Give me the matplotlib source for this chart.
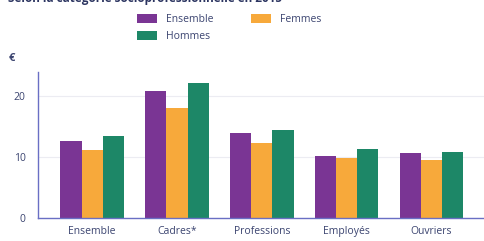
import matplotlib
matplotlib.use('Agg')
import matplotlib.pyplot as plt
import numpy as np

# Hourly wage (euros) by socio-professional category, 2015
categories = ['Ensemble', 'Cadres*', 'Professions\nintermédiaires', 'Employés', 'Ouvriers']
ensemble = [12.6, 20.8, 13.9, 10.2, 10.7]
femmes = [11.2, 18.0, 12.3, 9.8, 9.5]
hommes = [13.4, 22.2, 14.5, 11.4, 10.9]

purple = '#7a3594'
orange = '#f7a93b'
green = '#1d8767'
text_col = '#3b4470'
axis_col = '#6a6fc4'

plt.rcParams['font.family'] = ['Open Sans', 'DejaVu Sans']

fig = plt.figure(figsize=(4.84, 2.41), dpi=100)
ax = fig.add_axes([0.0785, 0.0954, 0.93, 0.606])

x = np.arange(len(categories))
w = 0.25
b1 = ax.bar(x - w, ensemble, w, color=purple, label='Ensemble')
b3 = ax.bar(x + w, hommes, w, color=green, label='Hommes')
b2 = ax.bar(x, femmes, w, color=orange, label='Femmes')

ax.set_xlim(-0.64, 4.67)
ax.set_ylim(0, 24)
ax.set_yticks([0, 10, 20])
ax.set_xticks(x)
ax.set_xticklabels(categories, linespacing=1.4)
ax.tick_params(axis='both', length=0, labelsize=7.5, labelcolor=text_col)
ax.tick_params(axis='y', pad=9)
ax.tick_params(axis='x', pad=6)
ax.yaxis.grid(True, color='#ececf2', linewidth=0.8)
ax.set_axisbelow(True)
for side in ['top', 'right']:
    ax.spines[side].set_visible(False)
for side in ['left', 'bottom']:
    ax.spines[side].set_color(axis_col)
    ax.spines[side].set_linewidth(1.0)

fig.text(0.018, 0.745, '€', fontsize=8, color=text_col, fontweight='bold')
fig.text(0.017, 1.005, 'Selon la catégorie socioprofessionnelle en 2015',
         fontsize=8.5, fontweight='bold', color='#2c3561', va='center')

leg = fig.legend(handles=[b1, b3, b2], labels=['Ensemble', 'Hommes', 'Femmes'],
                 ncol=2, loc='upper left', bbox_to_anchor=(137 / 484, 1 - 14 / 241),
                 frameon=False, fontsize=7.5, handlelength=1.9, handleheight=1.0,
                 handletextpad=0.9, columnspacing=3.6, labelspacing=0.55, borderpad=0,
                 borderaxespad=0)
for t in leg.get_texts():
    t.set_color(text_col)

fig.savefig('out.png', dpi=100)
